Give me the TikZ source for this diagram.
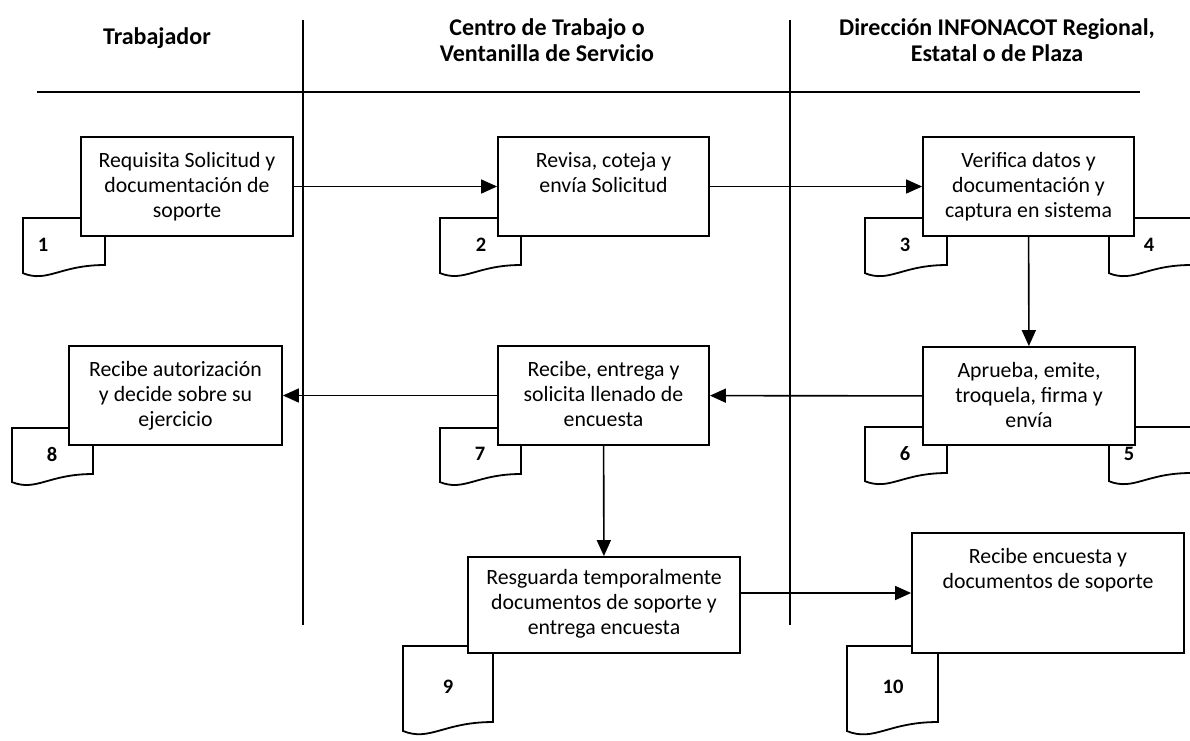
\documentclass[tikz,border=0pt]{standalone}
\usepackage{fontspec}
\setmainfont{Carlito}
\usetikzlibrary{arrows.meta,positioning}

% sheet symbol: name, left, top, right, bottom, label x, label y, number
\newcommand{\docsheet}[8]{%
  \draw[sheet] (#2,#3) -- (#4,#3) -- (#4,#5)
    .. controls ({#2+0.45*(#4-#2)},#5) and ({#2+0.3*(#4-#2)},{#5+0.22*(#4-#2)})
    .. (#2,{#5+0.1*(#4-#2)}) -- cycle;
  \node[num] (#1) at (#6,#7) {#8};}

\begin{document}
\begin{tikzpicture}[x=1pt, y=-1pt,
  box/.style={draw, line width=1.8pt, fill=white, inner sep=0pt},
  txt/.style={align=center, inner sep=0pt, font=\fontsize{21.8}{25}\selectfont},
  head/.style={align=center, inner sep=0pt, font=\fontsize{24}{26.5}\selectfont\bfseries},
  num/.style={inner sep=0pt, font=\fontsize{20.5}{24}\selectfont\bfseries},
  sheet/.style={draw, line width=1.8pt, fill=white},
  lane/.style={line width=1.6pt},
  flow/.style={line width=1.6pt, -{Triangle[length=16pt,width=14pt]}}]
  \useasboundingbox (0,0) rectangle (1190,740);

  % lanes
  \node[head] (trab) at (157,38) {Trabajador};
  \node[head] (centro) at (547,40) {Centro de Trabajo o\\Ventanilla de Servicio};
  \node[head] (direc) at (997,40) {Dirección INFONACOT Regional,\\Estatal o de Plaza};
  \draw[lane] (37,92) -- (1140,92);
  \draw[lane] (303,20) -- (303,625);
  \draw[lane] (790,20) -- (790,625);

  % sheets
  \docsheet{d1}{23}{218}{105}{265}{43}{245}{1}
  \docsheet{d2}{440}{218}{521}{265}{481}{245}{2}
  \docsheet{d3}{865}{218}{947}{265}{905}{245}{3}
  \docsheet{d4}{1109}{218}{1191}{265}{1149}{245}{4}
  \docsheet{d5}{1109}{427}{1191}{473}{1129}{454}{5}
  \docsheet{d6}{865}{427}{947}{473}{905}{454}{6}
  \docsheet{d7}{440}{428}{521}{474}{480}{454}{7}
  \docsheet{d8}{12}{428}{93}{474}{52}{454}{8}
  \docsheet{d9}{403}{646}{493}{722}{448}{687}{9}
  \docsheet{d10}{847}{646}{938}{722}{893}{687}{10}

  % steps
  \node[box, minimum width=212, minimum height=99] (b1) at (187,186.5) {};
  \node[box, minimum width=211, minimum height=99] (b2) at (603.5,186.5) {};
  \node[box, minimum width=211, minimum height=99] (b3) at (1028.5,186.5) {};
  \node[box, minimum width=212, minimum height=98] (b5) at (1029,396) {};
  \node[box, minimum width=211, minimum height=99] (b7) at (603.5,395.5) {};
  \node[box, minimum width=213, minimum height=99] (b8) at (175.5,395.5) {};
  \node[box, minimum width=272, minimum height=96] (b9) at (604,605) {};
  \node[box, minimum width=272, minimum height=120] (b10) at (1048,593) {};

  \node[txt, below=16pt of b1.north] (t1) {Requisita Solicitud y\\documentación de\\soporte};
  \node[txt, below=16pt of b2.north] (t2) {Revisa, coteja y\\envía Solicitud};
  \node[txt, below=16pt of b3.north] (t3) {Verifica datos y\\documentación y\\captura en sistema};
  \node[txt, below=16pt of b5.north] (t5) {Aprueba, emite,\\troquela, firma y\\envía};
  \node[txt, below=16pt of b7.north] (t7) {Recibe, entrega y\\solicita llenado de\\encuesta};
  \node[txt, below=16pt of b8.north] (t8) {Recibe autorización\\y decide sobre su\\ejercicio};
  \node[txt, below=13pt of b9.north] (t9) {Resguarda temporalmente\\documentos de soporte y\\entrega encuesta};
  \node[txt, below=16pt of b10.north] (t10) {Recibe encuesta y\\documentos de soporte};

  \draw[flow] (b1) -- (b2);
  \draw[flow] (b2) -- (b3);
  \draw[flow] (b3) -- (b5);
  \draw[flow] (b5) -- (b7);
  \draw[flow] (b7) -- (b8);
  \draw[flow] (b7) -- (b9);
  \draw[flow] (b9.east |- b10.west) -- (b10.west);
\end{tikzpicture}
\end{document}
